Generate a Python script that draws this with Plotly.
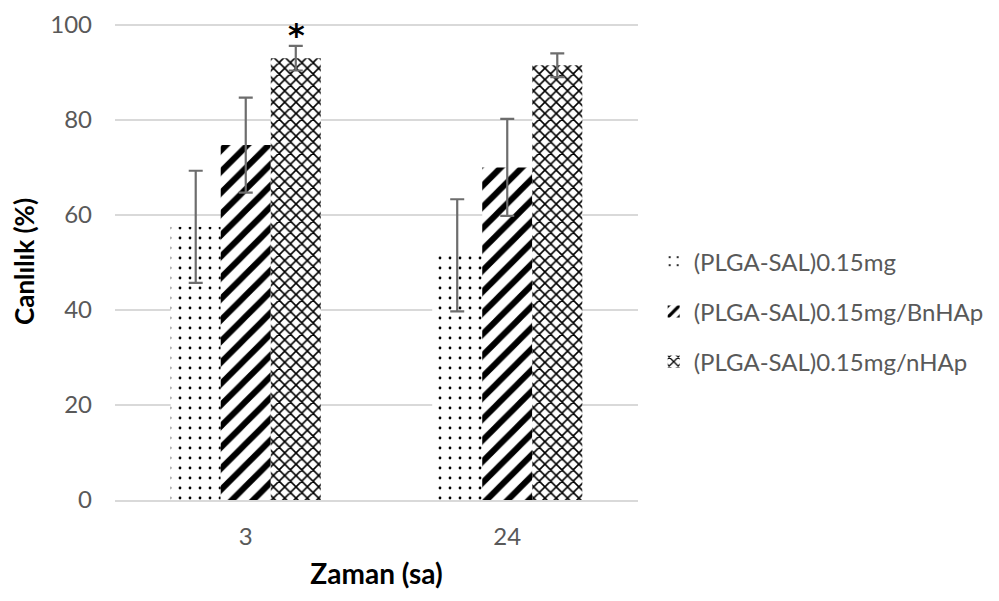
import plotly.graph_objects as go

categories = ["3", "24"]
series_names = ["(PLGA-SAL)0.15mg", "(PLGA-SAL)0.15mg/BnHAp", "(PLGA-SAL)0.15mg/nHAp"]
values_plain = [57.5, 51.5]
values_bnhap = [74.7, 70.0]
values_nhap = [93.0, 91.5]
err_plain = [11.8, 11.8]
err_bnhap = [10.0, 10.2]
err_nhap = [2.6, 2.5]
y_ticks = [0, 20, 40, 60, 80, 100]

FONT = "Lato, 'Open Sans', sans-serif"
GRAY = "#595959"

patterns = [
    dict(shape=".", size=10, solidity=0.06, bgcolor="white", fgcolor="black", fgopacity=1),
    dict(shape="/", size=15, solidity=0.4, bgcolor="white", fgcolor="black", fgopacity=1),
    dict(shape="x", size=8, solidity=0.36, bgcolor="white", fgcolor="black", fgopacity=1),
]
vals = [values_plain, values_bnhap, values_nhap]
errs = [err_plain, err_bnhap, err_nhap]

fig = go.Figure()
for i, name in enumerate(series_names):
    fig.add_trace(go.Bar(
        x=categories, y=vals[i], name=name,
        legendgroup=f"g{i}",
        marker=dict(color="black", line=dict(width=0), pattern=patterns[i]),
        error_y=dict(type="data", array=errs[i], visible=True,
                     color="#6d6d6d", thickness=2.2, width=7),
    ))

# significance mark above the third bar of the first group (category index 0)
fig.add_annotation(x=0, y=values_nhap[0] + err_nhap[0], xref="x", yref="y",
                   text="<b>*</b>", showarrow=False, xshift=51, yshift=11,
                   font=dict(family="DejaVu Sans", size=32, color="black"))

fig.update_layout(
    width=999, height=601,
    margin=dict(l=107, r=369, t=15, b=109, autoexpand=False),
    paper_bgcolor="white", plot_bgcolor="white",
    barmode="group", bargap=0.426, bargroupgap=0,
    font=dict(family=FONT, size=24, color=GRAY),
    showlegend=True,
    legend=dict(x=1.03, y=0.395, xanchor="left", yanchor="middle",
                font=dict(family=FONT, size=24, color=GRAY),
                tracegroupgap=16, itemwidth=30, bgcolor="rgba(0,0,0,0)"),
    xaxis=dict(
        type="category", range=[-0.5, 1.5],
        title=dict(text="<b>Zaman (sa)</b>", font=dict(family=FONT, size=28, color="black"), standoff=16),
        tickfont=dict(family=FONT, size=24, color=GRAY),
        showline=True, linecolor="#d9d9d9", linewidth=1.5,
        ticks="", ticklabelstandoff=14, automargin=False,
    ),
    yaxis=dict(
        title=dict(text="<b>Canlılık (%)</b>", font=dict(family=FONT, size=26, color="black"), standoff=10),
        range=[0, 100.4], tickvals=y_ticks,
        tickfont=dict(family=FONT, size=24, color=GRAY),
        showgrid=True, gridcolor="#d9d9d9", gridwidth=1.5,
        zeroline=False, showline=False, ticks="", ticklabelstandoff=22, automargin=False,
        ticklabeloverflow="allow",
    ),
)

fig.write_html("out.html")
